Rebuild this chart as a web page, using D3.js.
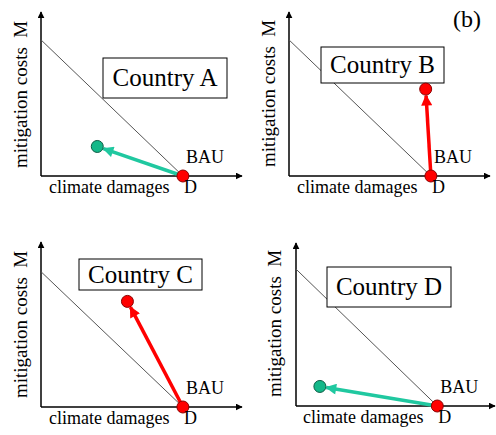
<!DOCTYPE html>
<html>
<head>
<meta charset="utf-8">
<script src="https://cdn.jsdelivr.net/npm/d3@7"></script>
<style>
  body { margin: 0; background: #fff; }
  text { font-family: "Liberation Serif", "Times New Roman", serif; fill: #000; }
</style>
</head>
<body>
<script>
const width = 496;
const height = 435;

// data (axes run 0..10 in each panel)
const countries = ["Country A", "Country B", "Country C", "Country D"];
const bauX = [7.06, 7.06, 7.06, 7.1];        // BAU point on damages axis
const lineTopY = [8.3, 8.3, 8.2, 8.4];       // where the trade-off line meets M axis
const policyX = [2.8, 6.8, 4.3, 1.2];
const policyY = [1.8, 5.3, 6.4, 1.2];
const outcome = ["better", "worse", "worse", "better"];

// panel layout in pixels
const panels = [
  {x0: 41, x1: 242, y0: 176, y1: 12, box: [103, 58, 124, 40], yLab: [27, 168], xLab: [49, 193]},
  {x0: 289, x1: 490, y0: 176, y1: 12, box: [321, 47, 123, 36], yLab: [275, 167], xLab: [297, 193]},
  {x0: 41, x1: 242, y0: 407, y1: 242, box: [79, 259, 123, 31], yLab: [27, 398], xLab: [49, 424]},
  {x0: 296, x1: 495, y0: 406, y1: 243, box: [327, 267, 124, 40], yLab: [281, 397], xLab: [303, 423]}
];

const colors = {better: "#20c8a0", worse: "#ff0000"};
const dotFill = {better: "#14b889", worse: "#ff0000"};
const dotStroke = {better: "#0c5c45", worse: "#8b0000"};

const svg = d3.select("body").append("svg").attr("width", width).attr("height", height);

const defs = svg.append("defs");
defs.append("marker").attr("id", "axisHead")
  .attr("viewBox", "0 0 10 10").attr("refX", 9).attr("refY", 5)
  .attr("markerWidth", 7).attr("markerHeight", 7).attr("markerUnits", "userSpaceOnUse")
  .attr("orient", "auto")
  .append("path").attr("d", "M0,0L10,5L0,10z").attr("fill", "#000");

Object.keys(colors).forEach(k => {
  defs.append("marker").attr("id", "head-" + k)
    .attr("viewBox", "0 0 10 10").attr("refX", 9).attr("refY", 5)
    .attr("markerWidth", 12).attr("markerHeight", 11).attr("markerUnits", "userSpaceOnUse")
    .attr("orient", "auto")
    .append("path").attr("d", "M0,0L10,5L0,10z").attr("fill", colors[k]);
});

countries.forEach((name, i) => {
  const p = panels[i];
  const x = d3.scaleLinear().domain([0, 10]).range([p.x0, p.x1]);
  const y = d3.scaleLinear().domain([0, 10]).range([p.y0, p.y1]);
  const g = svg.append("g");

  // axes
  g.append("line").attr("x1", x(0)).attr("y1", y(0)).attr("x2", x(0)).attr("y2", y(10))
    .attr("stroke", "#000").attr("stroke-width", 1.5).attr("marker-end", "url(#axisHead)");
  g.append("line").attr("x1", x(0)).attr("y1", y(0)).attr("x2", x(10)).attr("y2", y(0))
    .attr("stroke", "#000").attr("stroke-width", 1.5).attr("marker-end", "url(#axisHead)");

  // trade-off line
  g.append("line").attr("x1", x(0)).attr("y1", y(lineTopY[i])).attr("x2", x(bauX[i])).attr("y2", y(0))
    .attr("stroke", "#555").attr("stroke-width", 1);

  // label box
  g.append("rect").attr("x", p.box[0]).attr("y", p.box[1]).attr("width", p.box[2]).attr("height", p.box[3])
    .attr("fill", "#fff").attr("stroke", "#000").attr("stroke-width", 1);
  g.append("text").attr("x", p.box[0] + p.box[2] / 2).attr("y", p.box[1] + p.box[3] / 2 + 8)
    .attr("text-anchor", "middle").attr("font-size", 25).text(name);

  // arrow from BAU to policy point
  const k = outcome[i];
  const bx = x(bauX[i]), by = y(0), px = x(policyX[i]), py = y(policyY[i]);
  const len = Math.hypot(px - bx, py - by);
  const ex = px - (px - bx) / len * 6.5, ey = py - (py - by) / len * 6.5;
  g.append("line").attr("x1", bx).attr("y1", by).attr("x2", ex).attr("y2", ey)
    .attr("stroke", colors[k]).attr("stroke-width", 3.5).attr("marker-end", "url(#head-" + k + ")");

  g.append("circle").attr("cx", px).attr("cy", py).attr("r", 6)
    .attr("fill", dotFill[k]).attr("stroke", dotStroke[k]).attr("stroke-width", 1);
  g.append("circle").attr("cx", bx).attr("cy", by).attr("r", 6)
    .attr("fill", "#ff0000").attr("stroke", "#8b0000").attr("stroke-width", 1);

  // texts
  g.append("text").attr("x", bx + 3).attr("y", by - 13).attr("font-size", 18).text("BAU");
  g.append("text").attr("x", p.xLab[0]).attr("y", p.xLab[1]).attr("font-size", 18).text("climate damages");
  g.append("text").attr("x", bx + 1).attr("y", p.xLab[1]).attr("font-size", 18).text("D");
  g.append("text").attr("transform", `translate(${p.yLab[0]},${p.yLab[1]}) rotate(-90)`)
    .attr("font-size", 19).attr("xml:space", "preserve").text("mitigation costs  M");
});

svg.append("text").attr("x", 453).attr("y", 27).attr("font-size", 24).text("(b)");
</script>
</body>
</html>
